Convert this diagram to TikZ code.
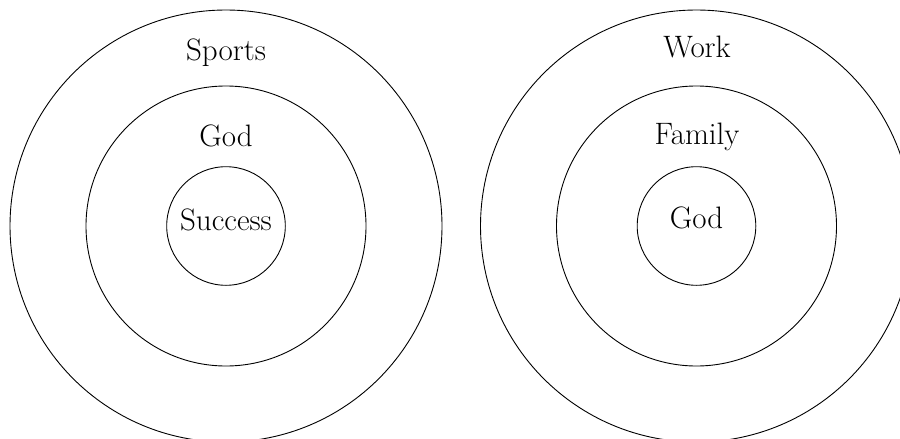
\documentclass[tikz,border=0pt]{standalone}
\usepackage{tikz}

\begin{document}
\begin{tikzpicture}[
        x=0.5pt, y=-0.5pt,
        every node/.style={font=\fontsize{15.5}{18}\selectfont},
        ring/.style={draw, circle, minimum size=#1, inner sep=0pt, line width=0.45pt},
        ringtext/.style={anchor=base, inner sep=0pt}
        ]
        \useasboundingbox (0,0) rectangle (900,439);
        \clip (0,0) rectangle (900,439);

        % Left target
        \node[ring=216pt] (leftouter) at (226,226) {};
        \node[ring=140pt] (leftmiddle) at (226,226) {};
        \node[ring=59.3pt] (leftinner) at (226,226) {};
        \node[ringtext] (sports) at (226,61) {Sports};
        \node[ringtext] (leftgod) at (226,146) {God};
        \node[ringtext] (success) at (226,230.7) {Success};

        % Right target
        \node[ring=216pt] (rightouter) at (696.5,226) {};
        \node[ring=140pt] (rightmiddle) at (696.5,226) {};
        \node[ring=59.3pt] (rightinner) at (696.5,226) {};
        \node[ringtext] (work) at (697,57.3) {Work};
        \node[ringtext] (family) at (697,144) {Family};
        \node[ringtext] (rightgod) at (696.5,228.7) {God};
    \end{tikzpicture}
\end{document}
